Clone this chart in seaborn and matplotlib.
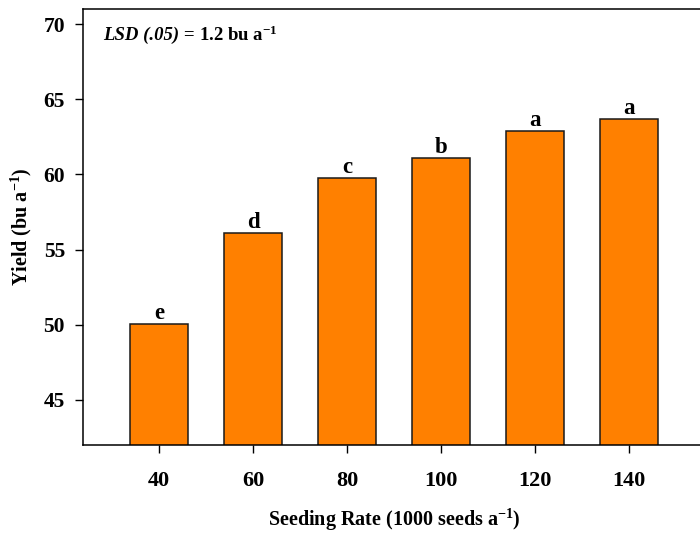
import matplotlib
matplotlib.use("Agg")
import matplotlib.pyplot as plt
import seaborn as sns
import pandas as pd

rates = ["40", "60", "80", "100", "120", "140"]
yields = [50.05, 56.07, 59.73, 61.07, 62.9, 63.7]
letters = ["e", "d", "c", "b", "a", "a"]
yticks = [45, 50, 55, 60, 65, 70]

sns.set_style("white")
plt.rcParams['font.family'] = ['Liberation Serif', 'DejaVu Serif']
plt.rcParams['text.color'] = 'black'
plt.rcParams['axes.labelcolor'] = 'black'
plt.rcParams['xtick.color'] = 'black'
plt.rcParams['ytick.color'] = 'black'
plt.rcParams['mathtext.fontset'] = 'custom'
plt.rcParams['mathtext.rm'] = 'Liberation Serif:bold'
plt.rcParams['mathtext.bf'] = 'Liberation Serif:bold'
plt.rcParams['mathtext.it'] = 'Liberation Serif:italic:bold'

df = pd.DataFrame({"rate": rates, "yield": yields})

fig = plt.figure(figsize=(7, 5.33), dpi=100)
ax = fig.add_axes([83/700, 88/533, 622/700, 436/533])

sns.barplot(data=df, x="rate", y="yield", order=rates, color="#FF8000",
            saturation=1, width=0.61, edgecolor="#1a1a1a", linewidth=1.1, ax=ax)

ax.bar_label(ax.containers[0], labels=letters, padding=0,
             fontsize=16.5, fontweight="bold", color="black")

ax.set_ylim(42, 71)
ax.set_xlim(-0.81, 5.81)
ax.set_yticks(yticks)
ax.set_yticklabels([str(t) for t in yticks], fontsize=15.5, fontweight="bold")
ax.set_xticklabels(rates, fontsize=16, fontweight="bold")
ax.tick_params(axis="y", direction="out", length=6, width=1, color="black", pad=7, left=True)
ax.tick_params(axis="x", direction="out", length=6, width=1, color="black", pad=13, bottom=True)

for s in ["left", "bottom", "top"]:
    ax.spines[s].set_visible(True)
    ax.spines[s].set_color("black")
    ax.spines[s].set_linewidth(1.1)
ax.spines["right"].set_visible(False)

ax.set_xlabel("Seeding Rate (1000 seeds a$^{-1}$)", fontsize=14.5, fontweight="bold", labelpad=11)
ax.set_ylabel("Yield (bu a$^{-1}$)", fontsize=14.5, fontweight="bold", labelpad=7)

t1 = ax.text(0.032, 0.94, "LSD (.05)", transform=ax.transAxes,
             fontsize=13.5, fontweight="bold", fontstyle="italic", ha="left", va="center")
ax.annotate(" = 1.2 bu a$^{-1}$", xy=(1, 0.5), xycoords=t1, fontsize=13.5,
            fontweight="bold", ha="left", va="center")

fig.savefig("out.png", dpi=100)
